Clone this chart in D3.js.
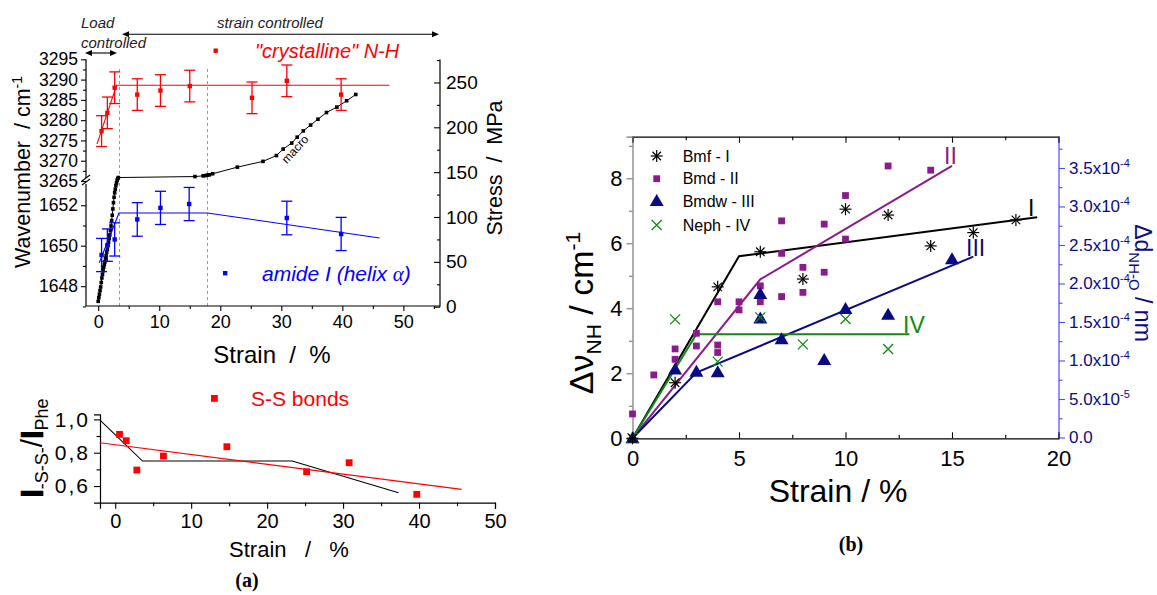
<!DOCTYPE html>
<html>
<head>
<meta charset="utf-8">
<script src="https://cdn.jsdelivr.net/npm/d3@7"></script>
<style>
  body { margin: 0; background: #fff; }
  svg { font-family: "Liberation Sans", Arial, sans-serif; }
</style>
</head>
<body>
<svg id="chart" width="1157" height="595"></svg>
<script>
// ---------- Panel (a), upper plot: band positions and macroscopic stress ----------
const nhStrain = [0.55, 1.5, 2.7, 6.4, 10.2, 15.0, 25.2, 30.9, 39.8];
const nhWave   = [3277.3, 3281.8, 3288.0, 3286.3, 3287.3, 3288.4, 3285.5, 3289.7, 3286.3];
const nhErr    = [3.8, 3.9, 3.9, 3.9, 3.9, 3.9, 3.9, 3.9, 3.9];
const nhFitStrain = [-0.2, 3.0, 47.7];
const nhFitWave   = [3274.1, 3288.6, 3288.6];

const amideStrain = [0.55, 1.5, 2.7, 6.4, 10.2, 14.9, 30.9, 39.8];
const amideWave   = [1649.54, 1650.03, 1650.31, 1651.30, 1651.87, 1652.06, 1651.37, 1650.58];
const amideErr    = [0.82, 0.80, 0.82, 0.83, 0.82, 0.82, 0.83, 0.82];
const amideFitStrain = [0.16, 3.4, 17.9, 46.1];
const amideFitWave   = [1649.15, 1651.62, 1651.62, 1650.38];

const stressStrain = [0.0, 0.1, 0.2, 0.3, 0.4, 0.5, 0.6, 0.7, 0.8, 0.9, 1.0, 1.1, 1.2, 1.3, 1.4,
  1.5, 1.6, 1.7, 1.8, 1.9, 2.0, 2.1, 2.2, 2.3, 2.4, 2.5, 2.6, 2.7, 2.8, 2.9, 3.0, 3.1, 3.2, 3.3,
  15.85, 17.2, 17.6, 17.9, 18.2, 18.75, 22.8, 27.0, 29.2, 30.3, 31.7, 32.6, 33.6, 34.8, 36.0,
  37.4, 39.1, 40.7, 42.2];
const stressMPa = [6, 10, 14, 18, 22, 27, 32, 36, 40, 44, 47, 50, 54, 57, 61,
  64, 68, 72, 76, 80, 85, 90, 96, 102, 109, 116, 122, 127, 131, 135, 138, 141, 143, 144,
  145.1, 145.9, 146.2, 146.7, 147.0, 148.2, 155.6, 162.0, 168.5, 175.7, 182.4, 189, 196, 202.5, 209,
  216.5, 222.5, 229.6, 236.6];
const regimeStrain = [3.4, 17.9];

const aXTicks = [0, 10, 20, 30, 40, 50];
const nhTicks = [3265, 3270, 3275, 3280, 3285, 3290, 3295];
const amideTicks = [1648, 1650, 1652];
const stressTicks = [0, 50, 100, 150, 200, 250];

// ---------- Panel (a), lower plot: S-S band intensity ratio ----------
const ssStrain = [0.57, 1.45, 2.85, 6.35, 14.7, 25.2, 30.8, 39.7];
const ssRatio  = [0.91, 0.872, 0.696, 0.78, 0.836, 0.686, 0.74, 0.55];
const ssLinStrain = [-2, 45.6];
const ssLinRatio  = [0.86, 0.58];
const ssSegStrain = [-2, 3.6, 23.3, 37.3];
const ssSegRatio  = [0.996, 0.75, 0.75, 0.56];
const ssXTicks = [0, 10, 20, 30, 40, 50];
const ssYTicks = [0.6, 0.8, 1.0];

// ---------- Panel (b): N-H shift versus strain ----------
const bmfStrain = [0, 2, 4, 6, 8, 10, 12, 14, 16, 18];
const bmfShift  = [0, 1.71, 4.66, 5.74, 4.90, 7.05, 6.87, 5.92, 6.33, 6.72];
const bmfFitX = [0, 5, 19];
const bmfFitY = [0, 5.6, 6.8];

const bmdStrain = [0, 1, 2, 2, 3, 3, 4, 4, 4, 5, 5, 6, 6, 7, 7, 7, 8, 8, 9, 9, 10, 10, 12, 14];
const bmdShift  = [0.75, 1.95, 2.75, 2.43, 3.23, 2.84, 2.87, 2.64, 4.2, 4.2, 3.95, 4.69, 4.2,
  6.69, 5.69, 4.36, 5.26, 4.49, 6.59, 5.11, 7.47, 6.13, 8.38, 8.25];
const bmdFitX = [0, 6, 15];
const bmdFitY = [0, 4.89, 8.38];

const bmdwStrain = [0, 2, 3, 4, 6, 6, 7, 9, 10, 12, 15];
const bmdwShift  = [0, 2.12, 2.05, 2.03, 3.69, 4.44, 3.05, 2.41, 3.98, 3.8, 5.51];
const bmdwFitX = [0, 3, 16];
const bmdwFitY = [0, 2.02, 5.59];

const nephStrain = [0, 2, 4, 6, 8, 10, 12];
const nephShift  = [0, 3.66, 2.36, 3.72, 2.89, 3.67, 2.75];
const nephFitX = [0, 3, 13];
const nephFitY = [0, 3.2, 3.2];

const bXTicks = [0, 5, 10, 15, 20];
const bYTicks = [0, 2, 4, 6, 8];
const bRightTicks = [0, 5e-5, 1e-4, 1.5e-4, 2e-4, 2.5e-4, 3e-4, 3.5e-4];
const legendNames = ["Bmf - I", "Bmd - II", "Bmdw - III", "Neph - IV"];

// ---------- colours ----------
const RED = "#ff0000", BLUE = "#0000ff", GREEN_DASH = "#22ee22";
const PURPLE = "#8c1a8c", NAVY = "#0a0a85", GREEN = "#108a10", AXBLUE = "#4a4aff";

const svg = d3.select("#chart");

function zip(xs, ys) { return xs.map((x, i) => [x, ys[i]]); }

// each axis gets its own group so tick selections never overlap
function majorAxis(parent, transform, axis, color) {
  const g = parent.append("g").attr("transform", transform).call(axis);
  g.select(".domain").attr("stroke", color || "#000").attr("stroke-width", 1.2);
  g.selectAll(".tick line").attr("stroke", color || "#000").attr("stroke-width", 1.1);
  g.selectAll(".tick text").attr("fill", "#000");
  return g;
}
function minorAxis(parent, transform, axis, color) {
  const g = parent.append("g").attr("transform", transform).call(axis.tickFormat(""));
  g.select(".domain").remove();
  g.selectAll(".tick line").attr("stroke", color || "#000").attr("stroke-width", 1.1);
  return g;
}
const intFmt = d3.format("d");

// ======================= Panel (a) upper =======================
const ax = d3.scaleLinear().domain([-2, 56]).range([86, 440]);
const yHi = d3.scaleLinear().domain([3265, 3295]).range([181, 59.3]);
const yLo = d3.scaleLinear().domain([1647.02, 1653.1]).range([306, 183]);
const yStress = d3.scaleLinear().domain([0, 275.7]).range([306.7, 59.4]);

const pa = svg.append("g");

// regime boundaries
regimeStrain.forEach(s => {
  const x = Math.round(ax(s)) + 0.5;
  pa.append("line").attr("x1", x).attr("x2", x)
    .attr("y1", yStress(265)).attr("y2", 306)
    .attr("stroke", GREEN_DASH).attr("stroke-width", 1).attr("stroke-dasharray", "3,3");
});

// x axis
minorAxis(pa, "translate(0,306)", d3.axisBottom(ax).tickValues([5, 15, 25, 35, 45, 55]).tickSize(3));
majorAxis(pa, "translate(0,306)", d3.axisBottom(ax).tickValues(aXTicks).tickSize(5).tickPadding(4))
  .call(g => g.selectAll(".tick text").attr("font-size", 18))
  .call(g => g.select(".domain").attr("d", "M86,0H440"));

// left axis: two segments with a break
minorAxis(pa, "translate(86,0)", d3.axisLeft(yHi).tickValues([3267.5, 3272.5, 3277.5, 3282.5, 3287.5, 3292.5]).tickSize(3));
majorAxis(pa, "translate(86,0)", d3.axisLeft(yHi).tickValues(nhTicks).tickSize(5).tickPadding(3).tickFormat(intFmt))
  .call(g => g.selectAll(".tick text").attr("font-size", 17.5))
  .call(g => g.select(".domain").attr("d", "M0,59.3V178"));
minorAxis(pa, "translate(86,0)", d3.axisLeft(yLo).tickValues([1647, 1649, 1651]).tickSize(3));
majorAxis(pa, "translate(86,0)", d3.axisLeft(yLo).tickValues(amideTicks).tickSize(5).tickPadding(3).tickFormat(intFmt))
  .call(g => g.selectAll(".tick text").attr("font-size", 17.5))
  .call(g => g.select(".domain").attr("d", "M0,184V306"));
// break marks
[178, 182].forEach(y => {
  pa.append("line").attr("x1", 82).attr("x2", 90).attr("y1", y + 3).attr("y2", y - 3)
    .attr("stroke", "#000").attr("stroke-width", 1.1);
});

// right axis (stress), ticks point inward
minorAxis(pa, "translate(440,0)", d3.axisLeft(yStress).tickValues([25, 75, 125, 175, 225, 275]).tickSize(3));
majorAxis(pa, "translate(440,0)", d3.axisLeft(yStress).tickValues(stressTicks).tickSize(6).tickFormat(intFmt))
  .call(g => g.selectAll(".tick text").attr("x", 6).attr("text-anchor", "start").attr("font-size", 19))
  .call(g => g.select(".domain").attr("d", "M0,59.4V306.7"));

// axis titles
const wl = pa.append("text").attr("transform", "translate(30,172) rotate(-90)")
  .attr("text-anchor", "middle").attr("font-size", 21.5).style("white-space", "pre");
wl.append("tspan").text("Wavenumber  / cm");
wl.append("tspan").attr("dy", -8).attr("font-size", 14).text("-1");
pa.append("text").attr("transform", "translate(502,168) rotate(-90)")
  .attr("text-anchor", "middle").attr("font-size", 21.5).style("white-space", "pre")
  .text("Stress  /  MPa");
pa.append("text").attr("x", 272).attr("y", 363).attr("text-anchor", "middle")
  .attr("font-size", 24).style("white-space", "pre").text("Strain  /  %");

// stress curve
pa.append("path").datum(zip(stressStrain, stressMPa))
  .attr("d", d3.line().x(d => ax(d[0])).y(d => yStress(d[1])))
  .attr("fill", "none").attr("stroke", "#000").attr("stroke-width", 1);
pa.selectAll(".sp").data(zip(stressStrain, stressMPa)).join("rect")
  .attr("x", d => ax(d[0]) - 1.8).attr("y", d => yStress(d[1]) - 1.8)
  .attr("width", 3.6).attr("height", 3.6).attr("fill", "#000");
pa.append("text").attr("transform", "translate(298,152) rotate(-47)")
  .attr("text-anchor", "middle").attr("font-size", 12).text("macro");

// fits
pa.append("path").datum(zip(nhFitStrain, nhFitWave))
  .attr("d", d3.line().x(d => ax(d[0])).y(d => yHi(d[1])))
  .attr("fill", "none").attr("stroke", RED).attr("stroke-width", 1.1);
pa.append("path").datum(zip(amideFitStrain, amideFitWave))
  .attr("d", d3.line().x(d => ax(d[0])).y(d => yLo(d[1])))
  .attr("fill", "none").attr("stroke", BLUE).attr("stroke-width", 1.1);

// error bars + points
function errPoints(xs, ys, es, yScale, color) {
  xs.forEach((s, i) => {
    const x = ax(s), y0 = yScale(ys[i] - es[i]), y1 = yScale(ys[i] + es[i]);
    pa.append("line").attr("x1", x).attr("x2", x).attr("y1", y0).attr("y2", y1)
      .attr("stroke", color).attr("stroke-width", 1.3);
    [y0, y1].forEach(yy => pa.append("line").attr("x1", x - 5.5).attr("x2", x + 5.5)
      .attr("y1", yy).attr("y2", yy).attr("stroke", color).attr("stroke-width", 1.3));
    pa.append("rect").attr("x", x - 2.2).attr("y", yScale(ys[i]) - 2.2)
      .attr("width", 4.4).attr("height", 4.4).attr("fill", color);
  });
}
errPoints(nhStrain, nhWave, nhErr, yHi, RED);
errPoints(amideStrain, amideWave, amideErr, yLo, BLUE);

// legends
pa.append("rect").attr("x", 213.5).attr("y", 48.5).attr("width", 4.4).attr("height", 4.4).attr("fill", RED);
pa.append("text").attr("x", 255).attr("y", 58).attr("font-size", 20).attr("font-style", "italic")
  .attr("fill", RED).text("\"crystalline\" N-H");
pa.append("rect").attr("x", 223).attr("y", 271).attr("width", 4.4).attr("height", 4.4).attr("fill", BLUE);
const amL = pa.append("text").attr("x", 262).attr("y", 281).attr("font-size", 21).attr("font-style", "italic")
  .attr("fill", BLUE);
amL.append("tspan").text("amide I (helix ");
amL.append("tspan").attr("font-family", "Liberation Serif, serif").text("α");
amL.append("tspan").text(")");

// regime annotations
const ann = svg.append("g").attr("font-size", 15).attr("font-style", "italic").attr("fill", "#222");
ann.append("text").attr("x", 81).attr("y", 28).text("Load");
ann.append("text").attr("x", 81).attr("y", 48).text("controlled");
ann.append("text").attr("x", 217).attr("y", 28).text("strain controlled");
function dblArrow(x1, x2, y) {
  ann.append("line").attr("x1", x1 + 3).attr("x2", x2 - 3).attr("y1", y).attr("y2", y)
    .attr("stroke", "#000").attr("stroke-width", 1.1);
  ann.append("path").attr("d", `M${x1},${y}l7,-3v6z`).attr("fill", "#000");
  ann.append("path").attr("d", `M${x2},${y}l-7,-3v6z`).attr("fill", "#000");
}
dblArrow(85, 117, 53);
dblArrow(122, 439, 34.3);

// ======================= Panel (a) lower =======================
const sx = d3.scaleLinear().domain([-2, 50]).range([100, 495]);
const sy = d3.scaleLinear().domain([0.5, 1.03]).range([502.7, 414.4]);
const pb = svg.append("g");
minorAxis(pb, "translate(0,502.7)", d3.axisBottom(sx).tickValues([5, 15, 25, 35, 45]).tickSize(3.5));
majorAxis(pb, "translate(0,502.7)", d3.axisBottom(sx).tickValues(ssXTicks).tickSize(6).tickPadding(5))
  .call(g => g.selectAll(".tick text").attr("font-size", 20));
minorAxis(pb, "translate(100,0)", d3.axisLeft(sy).tickValues([0.7, 0.9]).tickSize(3.5));
majorAxis(pb, "translate(100,0)", d3.axisLeft(sy).tickValues(ssYTicks).tickSize(6).tickPadding(4)
  .tickFormat(d => d3.format(".1f")(d).replace(".", ",")))
  .call(g => g.selectAll(".tick text").attr("font-size", 21).attr("letter-spacing", 2));

pb.append("path").datum(zip(ssSegStrain, ssSegRatio))
  .attr("d", d3.line().x(d => sx(d[0])).y(d => sy(d[1])))
  .attr("fill", "none").attr("stroke", "#000").attr("stroke-width", 1.1);
pb.append("path").datum(zip(ssLinStrain, ssLinRatio))
  .attr("d", d3.line().x(d => sx(d[0])).y(d => sy(d[1])))
  .attr("fill", "none").attr("stroke", RED).attr("stroke-width", 1.1);
pb.selectAll(".ss").data(zip(ssStrain, ssRatio)).join("rect")
  .attr("x", d => sx(d[0]) - 3.4).attr("y", d => sy(d[1]) - 3.4)
  .attr("width", 6.8).attr("height", 6.8).attr("fill", RED);

pb.append("rect").attr("x", 211).attr("y", 395).attr("width", 6.8).attr("height", 6.8).attr("fill", RED);
pb.append("text").attr("x", 251).attr("y", 406).attr("font-size", 21).attr("fill", RED).text("S-S bonds");
pb.append("text").attr("x", 289).attr("y", 557).attr("text-anchor", "middle").attr("font-size", 22)
  .style("white-space", "pre").text("Strain   /   %");
const ssl = pb.append("text").attr("transform", "translate(42,448) rotate(-90)")
  .attr("text-anchor", "middle").attr("font-size", 30);
ssl.append("tspan").attr("stroke", "#000").attr("stroke-width", 2.5).text("I");
ssl.append("tspan").attr("dy", 6).attr("font-size", 18).text("-S-S-");
ssl.append("tspan").attr("dy", -6).text("/");
ssl.append("tspan").attr("stroke", "#000").attr("stroke-width", 2.5).text("I");
ssl.append("tspan").attr("dy", 6).attr("font-size", 18).text("Phe");
svg.append("text").attr("x", 247).attr("y", 587).attr("text-anchor", "middle")
  .attr("font-family", "Liberation Serif, serif").attr("font-weight", "bold").attr("font-size", 20).text("(a)");

// ======================= Panel (b) =======================
const bx = d3.scaleLinear().domain([0, 20]).range([632.5, 1058.5]);
const by = d3.scaleLinear().domain([0, 9.28]).range([438.3, 136.7]);
const byR = d3.scaleLinear().domain([0, 3.906e-4]).range([437.5, 136.7]);
const pc = svg.append("g");

// frame: bottom and top ticks inward, left outward (grey), right outward (blue)
minorAxis(pc, "translate(0,438.3)", d3.axisTop(bx).tickValues([2.5, 7.5, 12.5, 17.5]).tickSize(3.5));
majorAxis(pc, "translate(0,438.3)", d3.axisTop(bx).tickValues(bXTicks).tickSize(6))
  .call(g => g.selectAll(".tick text").attr("y", 12).attr("dy", "0.71em").attr("font-size", 22));
minorAxis(pc, "translate(0,136.7)", d3.axisBottom(bx).tickValues([2.5, 7.5, 12.5, 17.5]).tickSize(3.5));
majorAxis(pc, "translate(0,136.7)", d3.axisBottom(bx).tickValues(bXTicks).tickSize(6).tickFormat(""));
minorAxis(pc, "translate(632.5,0)", d3.axisLeft(by).tickValues([1, 3, 5, 7, 9]).tickSize(3.5), "#777");
majorAxis(pc, "translate(632.5,0)", d3.axisLeft(by).tickValues(bYTicks).tickSize(6).tickPadding(4), "#777")
  .call(g => g.selectAll(".tick text").attr("font-size", 22));
minorAxis(pc, "translate(1059,0)", d3.axisRight(byR)
  .tickValues(d3.range(0, 8).map(i => (i * 2 + 1) * 2.5e-5)).tickSize(3.5), AXBLUE);
majorAxis(pc, "translate(1059,0)", d3.axisRight(byR).tickValues(bRightTicks).tickSize(6).tickPadding(4), AXBLUE)
  .call(g => g.select(".domain").attr("d", "M0,136.7V437.5"))
  .call(g => g.selectAll(".tick text").attr("fill", NAVY).attr("font-size", 17).each(function (d) {
    const t = d3.select(this).text(null);
    if (d === 0) { t.text("0.0"); return; }
    const e = Math.floor(Math.log10(d) + 1e-9);
    t.append("tspan").text((d / Math.pow(10, e)).toFixed(1) + "x10");
    t.append("tspan").attr("dy", -7).attr("font-size", 11).text(String(e));
  }));

// axis titles
const bl = pc.append("text").attr("transform", "translate(593,313) rotate(-90)")
  .attr("text-anchor", "middle").attr("font-size", 34);
bl.append("tspan").text("Δν");
bl.append("tspan").attr("dy", 8).attr("font-size", 21).text("NH");
bl.append("tspan").attr("dy", -8).text(" / cm");
bl.append("tspan").attr("dy", -13).attr("font-size", 21).text("-1");
const br = pc.append("text").attr("transform", "translate(1135,283) rotate(90)")
  .attr("text-anchor", "middle").attr("font-size", 23).attr("fill", NAVY);
br.append("tspan").text("Δd");
br.append("tspan").attr("dy", 6).attr("font-size", 15).text("NH-O");
br.append("tspan").attr("dy", -6).text(" / nm");
pc.append("text").attr("x", 838).attr("y", 502).attr("text-anchor", "middle").attr("font-size", 32)
  .text("Strain / %");
svg.append("text").attr("x", 851).attr("y", 551).attr("text-anchor", "middle")
  .attr("font-family", "Liberation Serif, serif").attr("font-weight", "bold").attr("font-size", 20).text("(b)");

// fit lines
const bLine = d3.line().x(d => bx(d[0])).y(d => by(d[1]));
[[bmfFitX, bmfFitY, "#000"], [bmdFitX, bmdFitY, PURPLE], [bmdwFitX, bmdwFitY, NAVY], [nephFitX, nephFitY, GREEN]]
  .forEach(([xs, ys, c]) => pc.append("path").datum(zip(xs, ys)).attr("d", bLine)
    .attr("fill", "none").attr("stroke", c).attr("stroke-width", 2));

// marker shapes
function star(g, x, y, c) {
  const r = 6;
  [0, 45, 90, 135].forEach(a => {
    const dx = r * Math.cos(a * Math.PI / 180), dy = r * Math.sin(a * Math.PI / 180);
    g.append("line").attr("x1", x - dx).attr("x2", x + dx).attr("y1", y - dy).attr("y2", y + dy)
      .attr("stroke", c).attr("stroke-width", 1.2);
  });
}
function cross(g, x, y, c) {
  const r = 5;
  g.append("path").attr("d", `M${x - r},${y - r}L${x + r},${y + r}M${x - r},${y + r}L${x + r},${y - r}`)
    .attr("stroke", c).attr("stroke-width", 1.3);
}
function square(g, x, y, c) {
  g.append("rect").attr("x", x - 3.4).attr("y", y - 3.4).attr("width", 6.8).attr("height", 6.8).attr("fill", c);
}
function tri(g, x, y, c) {
  g.append("path").attr("d", `M${x},${y - 7}L${x + 7},${y + 5}L${x - 7},${y + 5}Z`).attr("fill", c);
}

const mk = pc.append("g");
bmdStrain.forEach((s, i) => square(mk, bx(s), by(bmdShift[i]), PURPLE));
bmdwStrain.forEach((s, i) => tri(mk, bx(s), by(bmdwShift[i]), NAVY));
nephStrain.forEach((s, i) => cross(mk, bx(s), by(nephShift[i]), GREEN));
bmfStrain.forEach((s, i) => star(mk, bx(s), by(bmfShift[i]), "#000"));

// curve labels
const lab = pc.append("g").attr("font-size", 23);
lab.append("text").attr("x", 1028).attr("y", 216).attr("fill", "#000").text("I");
lab.append("text").attr("x", 944).attr("y", 164).attr("fill", PURPLE).text("II");
lab.append("text").attr("x", 966).attr("y", 256).attr("fill", NAVY).text("III");
lab.append("text").attr("x", 903).attr("y", 333).attr("fill", GREEN).text("IV");

// legend
const lg = pc.append("g");
const legY = [156, 178.7, 201, 225];
star(lg, 656.7, legY[0], "#000");
square(lg, 656.7, legY[1], PURPLE);
tri(lg, 656.7, legY[2], NAVY);
cross(lg, 656.7, legY[3], GREEN);
legendNames.forEach((n, i) => lg.append("text").attr("x", 682.7).attr("y", legY[i] + 5.5)
  .attr("font-size", 16).text(n));
</script>
</body>
</html>
